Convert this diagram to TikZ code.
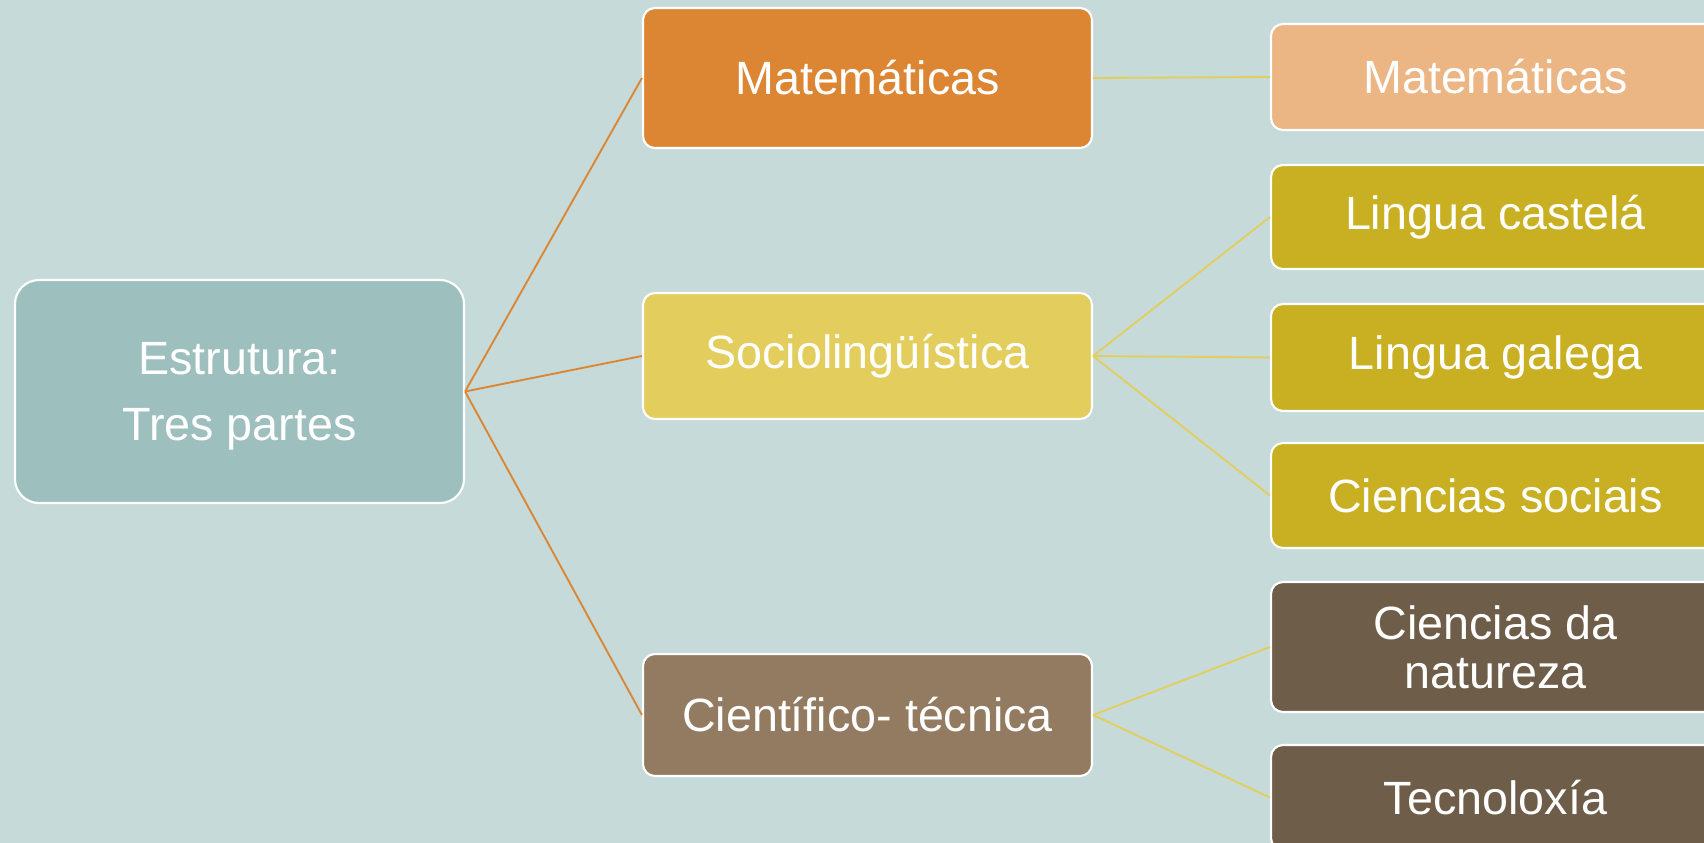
\documentclass[tikz,border=0pt]{standalone}
\usepackage{fontspec}
\setmainfont{Liberation Sans}
\definecolor{bg}{RGB}{197,218,217}
\definecolor{rootc}{RGB}{157,191,190}
\definecolor{matc}{RGB}{220,134,51}
\definecolor{matl}{RGB}{235,181,132}
\definecolor{socc}{RGB}{227,205,93}
\definecolor{socd}{RGB}{201,175,34}
\definecolor{cienc}{RGB}{147,123,97}
\definecolor{ciend}{RGB}{110,93,73}
\tikzset{
  box/.style={draw=white, line width=1.6pt, rounded corners=9pt, text=white,
    minimum width=336.75pt, align=center, inner sep=2pt,
    font=\fontsize{35}{40}\selectfont},
  rootbox/.style={box, rounded corners=18pt},
  orline/.style={draw=matc, line width=1.4pt},
  yeline/.style={draw=socc, line width=1.4pt},
}
\begin{document}
\begin{tikzpicture}[x=0.75pt,y=-0.75pt]
\useasboundingbox (0,0) rectangle (1704,843);
\clip (0,0) rectangle (1704,843);
\fill[bg] (0,0) rectangle (1704,843);
% root
\node[rootbox, fill=rootc, minimum height=167.25pt, text depth=0pt, font=\fontsize{35}{50}\selectfont] (root) at (239.5,391.5) {Estrutura:\\Tres partes};
% middle column
\node[box, fill=matc, minimum height=105pt] (mat) at (867.5,78) {Matemáticas};
\node[box, fill=socc, minimum height=94.5pt] (soc) at (867.5,356) {Sociolingüística};
\node[box, fill=cienc, minimum height=91.5pt] (cien) at (867.5,715) {Científico- técnica};
% right column
\node[box, fill=matl, minimum height=79.5pt] (mat2) at (1495.5,77) {Matemáticas};
\node[box, fill=socd, minimum height=78pt] (cas) at (1495.5,217) {Lingua castelá};
\node[box, fill=socd, minimum height=80.25pt] (gal) at (1495.5,357.5) {Lingua galega};
\node[box, fill=socd, minimum height=78.75pt] (soci) at (1495.5,495.5) {Ciencias sociais};
\node[box, fill=ciend, minimum height=97.5pt, font=\fontsize{35}{36.75}\selectfont] (nat) at (1495.5,647) {Ciencias da\\natureza};
\node[box, fill=ciend, minimum height=78.75pt] (tec) at (1495.5,797.5) {Tecnoloxía};
% connectors
\draw[orline] (root.east) -- (mat.west);
\draw[orline] (root.east) -- (soc.west);
\draw[orline] (root.east) -- (cien.west);
\draw[yeline] (mat.east) -- (mat2.west);
\draw[yeline] (soc.east) -- (cas.west);
\draw[yeline] (soc.east) -- (gal.west);
\draw[yeline] (soc.east) -- (soci.west);
\draw[yeline] (cien.east) -- (nat.west);
\draw[yeline] (cien.east) -- (tec.west);
\end{tikzpicture}
\end{document}
